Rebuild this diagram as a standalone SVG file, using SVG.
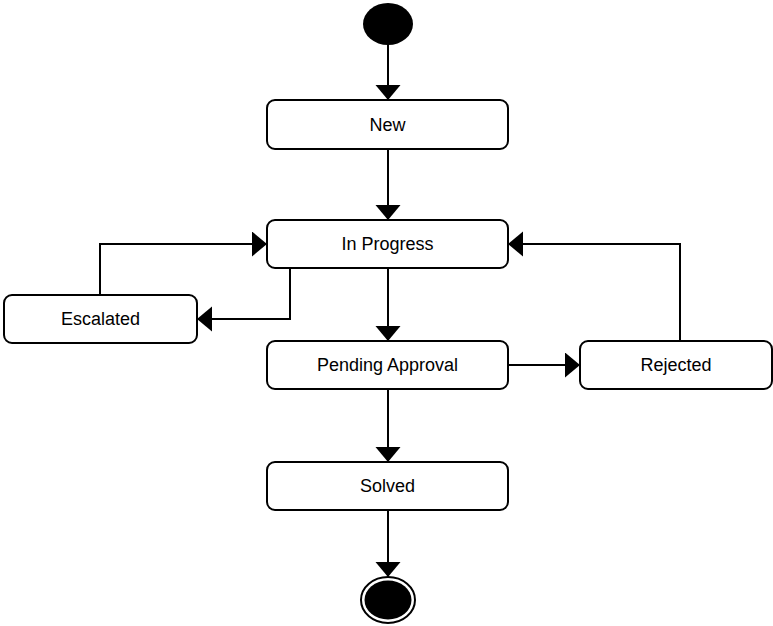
<svg xmlns="http://www.w3.org/2000/svg" width="773" height="626" viewBox="0 0 773 626">
  <style>
    .state rect { fill: #ffffff; stroke: #000000; stroke-width: 2; }
    .state text { font-family: "Liberation Sans", Arial, sans-serif; font-size: 18px; fill: #000000; text-anchor: middle; }
    .edge { fill: none; stroke: #000000; stroke-width: 2; marker-end: url(#arrow); }
  </style>
  <defs>
    <marker id="arrow" markerUnits="userSpaceOnUse" markerWidth="16" markerHeight="26" refX="15" refY="12.5" orient="auto">
      <path d="M0,0 L15,12.5 L0,25 Z" fill="#000000"/>
    </marker>
  </defs>

  <!-- transitions -->
  <g id="connectors">
    <path class="edge" d="M388,45 L388,100"/>
    <path class="edge" d="M388,149 L388,220"/>
    <path class="edge" d="M290,268 L290,319 L197,319"/>
    <path class="edge" d="M100,295 L100,244 L267,244"/>
    <path class="edge" d="M388,268 L388,341"/>
    <path class="edge" d="M508,365 L580,365"/>
    <path class="edge" d="M680,341 L680,244 L508,244"/>
    <path class="edge" d="M388,389 L388,462"/>
    <path class="edge" d="M388,510 L388,577"/>
  </g>

  <!-- initial state -->
  <g id="start">
    <ellipse cx="388" cy="24" rx="25" ry="21" fill="#000000"/>
  </g>

  <g id="new" class="state">
    <rect x="267" y="100" width="241" height="49" rx="8" ry="8"/>
    <text x="387.5" y="131">New</text>
  </g>

  <g id="in-progress" class="state">
    <rect x="267" y="220" width="241" height="48" rx="8" ry="8"/>
    <text x="387.5" y="250">In Progress</text>
  </g>

  <g id="escalated" class="state">
    <rect x="4" y="295" width="193" height="48" rx="8" ry="8"/>
    <text x="100.5" y="325">Escalated</text>
  </g>

  <g id="pending-approval" class="state">
    <rect x="267" y="341" width="241" height="48" rx="8" ry="8"/>
    <text x="387.5" y="371">Pending Approval</text>
  </g>

  <g id="rejected" class="state">
    <rect x="580" y="341" width="192" height="48" rx="8" ry="8"/>
    <text x="676" y="371">Rejected</text>
  </g>

  <g id="solved" class="state">
    <rect x="267" y="462" width="241" height="48" rx="8" ry="8"/>
    <text x="387.5" y="492">Solved</text>
  </g>

  <!-- final state -->
  <g id="end">
    <ellipse cx="388" cy="600" rx="27" ry="23" fill="#ffffff" stroke="#000000" stroke-width="2"/>
    <ellipse cx="388" cy="600" rx="23.5" ry="19.5" fill="#000000"/>
  </g>
</svg>
